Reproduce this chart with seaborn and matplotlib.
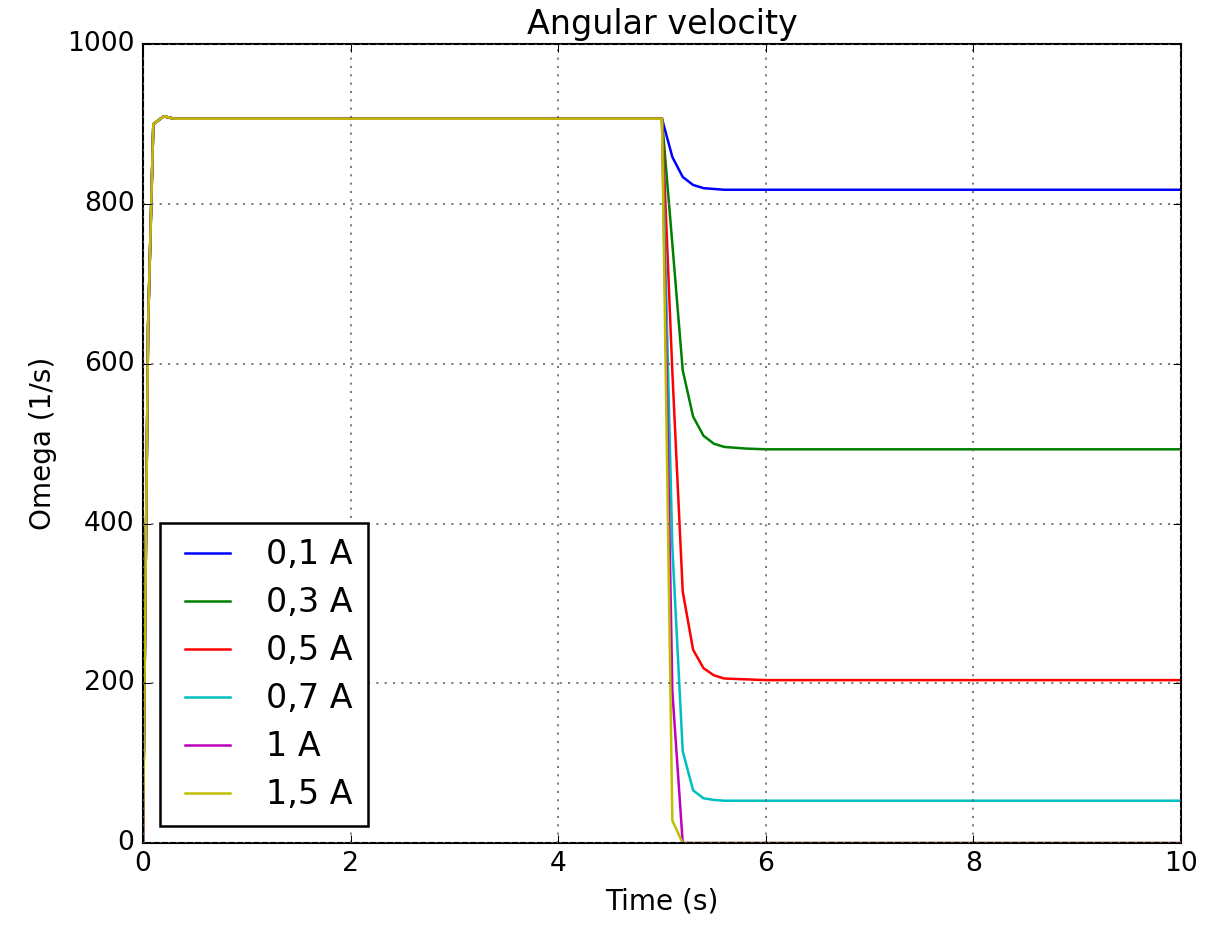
import pandas as pd
import seaborn as sns
import matplotlib
matplotlib.use('Agg')
import matplotlib.pyplot as plt

# knots of the simulated angular velocity (piecewise linear between points)
time = [0, 0.05, 0.1, 0.2, 0.3, 5.0, 5.1, 5.2, 5.3, 5.4, 5.5, 5.6, 5.8, 6.0, 10.0]

omega_01 = [0, 650, 900, 910, 907, 907, 859, 834, 824, 820, 819, 818, 818, 818, 818]
omega_03 = [0, 650, 900, 910, 907, 907, 750, 592, 534, 510, 500, 496, 494, 493, 493]
omega_05 = [0, 650, 900, 910, 907, 907, 590, 315, 242, 219, 210, 206, 205, 204, 204]
omega_07 = [0, 650, 900, 910, 907, 907, 370, 115, 66, 56, 54, 53, 53, 53, 53]
omega_10 = [0, 650, 900, 910, 907, 907, 190, 0, 0, 0, 0, 0, 0, 0, 0]
omega_15 = [0, 650, 900, 910, 907, 907, 28, 0, 0, 0, 0, 0, 0, 0, 0]

labels = ['0,1 A', '0,3 A', '0,5 A', '0,7 A', '1 A', '1,5 A']
colors = ['b', 'g', 'r', 'c', 'm', 'y']

series = [omega_01, omega_03, omega_05, omega_07, omega_10, omega_15]
frames = []
for lab, vals in zip(labels, series):
    frames.append(pd.DataFrame({'Time': time, 'Omega': vals, 'Current': lab}))
df = pd.concat(frames, ignore_index=True)

plt.style.use('classic')
plt.rcParams['font.family'] = ['DejaVu Sans']

fig, ax = plt.subplots(figsize=(1227 / 150, 925 / 150), dpi=150)
fig.patch.set_facecolor('white')
fig.subplots_adjust(left=0.1165, right=0.9625, top=0.952, bottom=0.0886)

sns.lineplot(data=df, x='Time', y='Omega', hue='Current', hue_order=labels,
             palette=dict(zip(labels, colors)), linewidth=1.2, ax=ax,
             estimator=None, sort=False)

ax.set_xlim(0, 10)
ax.set_ylim(0, 1000)
ax.set_xticks([0, 2, 4, 6, 8, 10])
ax.set_yticks([0, 200, 400, 600, 800, 1000])
ax.tick_params(labelsize=12.8)
ax.grid(True, color='0.4', linestyle=':', linewidth=0.8)
ax.set_xlabel('Time (s)', fontsize=13.4)
ax.set_ylabel('Omega (1/s)', fontsize=13.4)
ax.set_title('Angular velocity', fontsize=16)

handles, _ = ax.get_legend_handles_labels()
leg = ax.legend(handles, labels, loc='lower left', fontsize=16,
                handlelength=1.95, handletextpad=0.8, labelspacing=0.45,
                borderpad=0.45, borderaxespad=0.5, fancybox=False)
leg.get_frame().set_edgecolor('black')
leg.get_frame().set_linewidth(1.2)

plt.savefig('out.png', dpi=150, facecolor='white')
